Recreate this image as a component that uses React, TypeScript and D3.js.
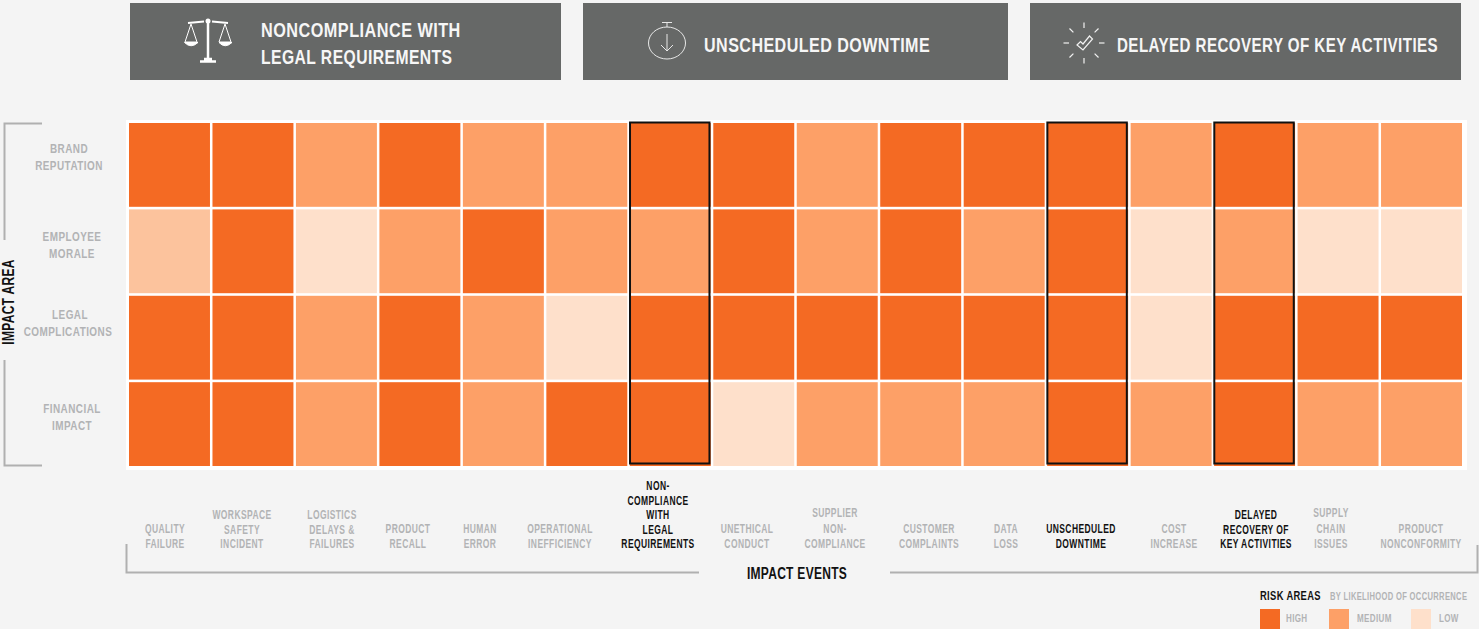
import React from "react";
import * as d3 from "d3";

const impactEvents = [
  ["QUALITY", "FAILURE"],
  ["WORKSPACE", "SAFETY", "INCIDENT"],
  ["LOGISTICS", "DELAYS &", "FAILURES"],
  ["PRODUCT", "RECALL"],
  ["HUMAN", "ERROR"],
  ["OPERATIONAL", "INEFFICIENCY"],
  ["NON-", "COMPLIANCE", "WITH", "LEGAL", "REQUIREMENTS"],
  ["UNETHICAL", "CONDUCT"],
  ["SUPPLIER", "NON-", "COMPLIANCE"],
  ["CUSTOMER", "COMPLAINTS"],
  ["DATA", "LOSS"],
  ["UNSCHEDULED", "DOWNTIME"],
  ["COST", "INCREASE"],
  ["DELAYED", "RECOVERY OF", "KEY ACTIVITIES"],
  ["SUPPLY", "CHAIN", "ISSUES"],
  ["PRODUCT", "NONCONFORMITY"],
];
const impactAreas = [
  ["BRAND", "REPUTATION"],
  ["EMPLOYEE", "MORALE"],
  ["LEGAL", "COMPLICATIONS"],
  ["FINANCIAL", "IMPACT"],
];
const brandReputation = ["H", "H", "M", "H", "M", "M", "H", "H", "M", "H", "H", "H", "M", "H", "M", "M"];
const employeeMorale = ["P", "H", "L", "M", "H", "M", "M", "H", "M", "H", "M", "H", "L", "M", "L", "L"];
const legalComplications = ["H", "H", "M", "H", "M", "L", "H", "H", "H", "H", "H", "H", "L", "H", "H", "H"];
const financialImpact = ["H", "H", "M", "H", "M", "H", "H", "L", "M", "M", "M", "H", "M", "H", "M", "M"];
const riskRows = [brandReputation, employeeMorale, legalComplications, financialImpact];
const highlightedEvents = [6, 11, 13];
const legendLevels = [
  { key: "H", label: "HIGH" },
  { key: "M", label: "MEDIUM" },
  { key: "L", label: "LOW" },
];

// layout constants, not data
const eventLabelCenters = [165, 242, 332, 408, 480, 560, 658, 747, 835, 929, 1006, 1081, 1174, 1256, 1331, 1421];
const eventLineGaps = [15.5, 14.5, 14.5, 15.5, 15.5, 15.5, 14.5, 15.5, 15.5, 15.5, 15.5, 15.5, 15.5, 14.5, 15.5, 15.5];
const areaLabelCenters = [69, 72, 70, 72];
const areaLabelBaselines = [153, 241, 319, 413];
const legendSwatchX = [1260, 1329, 1411];
const legendTextX = [1286, 1357, 1439];

const FONT = "'Liberation Sans', Arial, sans-serif";
const GREY = "#b2b3b5";
const INK = "#111111";
const LINE = "#b0b0b0";

const color = d3
  .scaleOrdinal<string, string>()
  .domain(["H", "M", "L", "P"])
  .range(["#f46a23", "#fda067", "#fee0cb", "#fcc39d"]);

const x = d3.scaleBand<number>().domain(d3.range(16)).range([129, 1462]).paddingInner(0.03).paddingOuter(0);
const y = d3.scaleBand<number>().domain(d3.range(4)).range([123, 466]).paddingInner(0.03).paddingOuter(0);

// The reference face is a condensed grotesque; squeeze a bold sans horizontally to match it.
function Cond({
  px,
  py,
  size,
  fill,
  squeeze,
  anchor = "start",
  ls = 0.5,
  rotate = 0,
  children,
}: {
  px: number;
  py: number;
  size: number;
  fill: string;
  squeeze: number;
  anchor?: "start" | "middle";
  ls?: number;
  rotate?: number;
  children: string;
}) {
  return (
    <text
      transform={`translate(${px},${py}) rotate(${rotate}) scale(${squeeze},1)`}
      textAnchor={anchor}
      fontFamily={FONT}
      fontWeight={700}
      fontSize={size}
      fill={fill}
      letterSpacing={ls}
    >
      {children}
    </text>
  );
}

function Header({ bx, bw, lines, tx, ty, sq }: { bx: number; bw: number; lines: string[]; tx: number; ty: number[]; sq: number[] }) {
  return (
    <g>
      <rect x={bx} y={3} width={bw} height={77} fill="#666867" />
      {lines.map((l, i) => (
        <Cond key={l} px={tx} py={ty[i]} size={21} fill="#f6f6f6" squeeze={sq[i]} ls={0.6}>
          {l}
        </Cond>
      ))}
    </g>
  );
}

function ScaleIcon() {
  return (
    <g fill="none" stroke="#fff" strokeWidth={1}>
      <path d="M188 23 L204 21.500 M212 21.500 L228 23" strokeWidth={2} />
      <circle cx={208} cy={21} r={2.500} fill="#fff" stroke="none" />
      <path d="M208 22 V59" strokeWidth={2.500} />
      <path d="M204 59 H212 M200 61.500 H216" strokeWidth={2.500} />
      <path d="M191 24 L185 42 H197 Z" />
      <path d="M225 24 L219 42 H231 Z" />
      <path d="M184.500 42.500 Q191 49 198 42.500 Z M219 42.500 Q225 49 232 42.500 Z" fill="#fff" />
    </g>
  );
}

function ClockIcon() {
  return (
    <g fill="none" stroke="#e8e8e8" strokeWidth={1}>
      <ellipse cx={667} cy={43} rx={18.500} ry={16} />
      <path d="M662 22.500 H672 M667 22.500 V27" />
      <path d="M667 34 V50 M661 45 L667 51 L673 45" />
    </g>
  );
}

function CheckIcon() {
  const ticks = d3.range(8).map((i) => (i * Math.PI) / 4);
  return (
    <g fill="none" stroke="#f2f2f2" strokeWidth={1.200}>
      {ticks.map((a) => (
        <line
          key={a}
          x1={1084 + Math.cos(a) * 15}
          y1={43 + Math.sin(a) * 15}
          x2={1084 + Math.cos(a) * 20.500}
          y2={43 + Math.sin(a) * 20.500}
        />
      ))}
      <path d="M1077 45 L1080.500 41.500 L1083 44 L1089.500 36 L1092.500 39 L1083 50 Z" />
    </g>
  );
}

export default function App() {
  return (
    <svg
      width={1479}
      height={629}
      style={{ position: "fixed", left: 0, top: 0, display: "block", background: "#f4f4f4" }}
    >
      <Header bx={130} bw={431} lines={["NONCOMPLIANCE WITH", "LEGAL REQUIREMENTS"]} tx={261} ty={[37, 64]} sq={[0.775, 0.747]} />
      <Header bx={583} bw={425} lines={["UNSCHEDULED DOWNTIME"]} tx={704} ty={[52]} sq={[0.766]} />
      <Header bx={1030} bw={431} lines={["DELAYED RECOVERY OF KEY ACTIVITIES"]} tx={1117} ty={[52]} sq={[0.721]} />
      <ScaleIcon />
      <ClockIcon />
      <CheckIcon />

      <rect x={126} y={120} width={1341} height={350} fill="#ffffff" />

      {riskRows.map((row, r) =>
        row.map((level, c) => (
          <rect key={`${r}-${c}`} x={x(c)} y={y(r)} width={x.bandwidth()} height={y.bandwidth()} fill={color(level)} />
        ))
      )}

      {highlightedEvents.map((c) => (
        <rect
          key={c}
          x={(x(c) as number) + 0.200}
          y={122.500}
          width={x.bandwidth() - 1.500}
          height={341}
          fill="none"
          stroke="#111"
          strokeWidth={2}
        />
      ))}

      {impactAreas.map((lines, r) =>
        lines.map((l, i) => (
          <Cond
            key={l}
            px={areaLabelCenters[r] - (l === "COMPLICATIONS" ? 2 : 0)}
            py={areaLabelBaselines[r] + i * 17}
            size={13}
            fill={GREY}
            squeeze={0.765}
            anchor="middle"
            ls={0.6}
          >
            {l}
          </Cond>
        ))
      )}

      <path d="M42 123.500 H4.500 V240 M4.500 360 V465.500 H42" fill="none" stroke={LINE} strokeWidth={2} />
      <Cond px={13.500} py={302} rotate={-90} size={16.500} fill={INK} squeeze={0.73} anchor="middle" ls={0.4}>
        IMPACT AREA
      </Cond>

      {impactEvents.map((lines, c) => {
        const hi = highlightedEvents.includes(c);
        return lines.map((l, i) => (
          <Cond
            key={`${c}-${i}`}
            px={eventLabelCenters[c]}
            py={548 - (lines.length - 1 - i) * eventLineGaps[c]}
            size={12.500}
            fill={hi ? INK : GREY}
            squeeze={0.68}
            anchor="middle"
            ls={0.6}
          >
            {l}
          </Cond>
        ));
      })}

      <path d="M126.500 544 V572.500 H699 M890 572.500 H1477.500 V545" fill="none" stroke={LINE} strokeWidth={2} />
      <Cond px={797} py={579} size={16} fill={INK} squeeze={0.75} anchor="middle" ls={0.4}>
        IMPACT EVENTS
      </Cond>

      <Cond px={1260} py={600} size={13} fill={INK} squeeze={0.72}>
        RISK AREAS
      </Cond>
      <Cond px={1330} py={600} size={11.500} fill={GREY} squeeze={0.66}>
        BY LIKELIHOOD OF OCCURRENCE
      </Cond>
      {legendLevels.map((d, i) => (
        <g key={d.key}>
          <rect x={legendSwatchX[i]} y={609} width={20} height={20} fill={color(d.key)} />
          <Cond px={legendTextX[i]} py={622} size={11.500} fill={GREY} squeeze={0.7}>
            {d.label}
          </Cond>
        </g>
      ))}
    </svg>
  );
}
